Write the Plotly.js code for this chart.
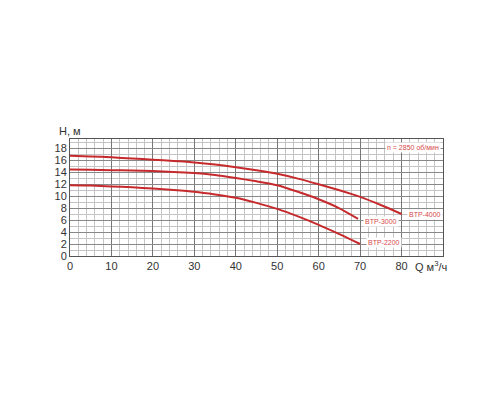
<!DOCTYPE html>
<html>
<head>
<meta charset="utf-8">
<script src="https://cdn.plot.ly/plotly-3.0.1.min.js"></script>
<style>
  html, body { margin: 0; padding: 0; background: #fff; }
  #chart { width: 500px; height: 400px; }
</style>
</head>
<body>
<div id="chart"></div>
<script>
// pump curves
var q4000 = [0, 5, 10, 15, 20, 25, 30, 35, 40, 45, 50, 55, 60, 65, 70, 75, 80];
var h4000 = [16.7, 16.6, 16.45, 16.25, 16.05, 15.85, 15.6, 15.25, 14.8, 14.3, 13.7, 12.9, 11.95, 10.95, 9.85, 8.5, 7.0];

var q3000 = [0, 5, 10, 15, 20, 25, 30, 35, 40, 45, 50, 55, 60, 65, 69.5];
var h3000 = [14.4, 14.38, 14.3, 14.25, 14.15, 14.0, 13.85, 13.5, 13.0, 12.45, 11.8, 10.7, 9.45, 7.95, 6.2];

var q2200 = [0, 5, 10, 15, 20, 25, 30, 35, 40, 45, 50, 55, 60, 65, 70];
var h2200 = [11.8, 11.75, 11.6, 11.45, 11.25, 11.0, 10.7, 10.25, 9.7, 8.85, 7.85, 6.6, 5.2, 3.65, 2.0];

var xTicks = [0, 10, 20, 30, 40, 50, 60, 70, 80];
var yTicks = [0, 2, 4, 6, 8, 10, 12, 14, 16, 18];

var curveColor = '#c62a2c';
var labelColor = '#d5474a';

function curve(q, h) {
  return {
    type: 'scatter',
    mode: 'lines',
    x: q,
    y: h,
    line: { color: curveColor, width: 2, shape: 'spline', smoothing: 0.6 },
    hoverinfo: 'skip'
  };
}

var data = [curve(q4000, h4000), curve(q3000, h3000), curve(q2200, h2200)];

function label(text, x, y) {
  return {
    text: text,
    x: x, y: y,
    xref: 'x', yref: 'y',
    xanchor: 'left',
    showarrow: false,
    bgcolor: '#ffffff',
    borderpad: 1,
    font: { family: 'Liberation Sans, Arial, sans-serif', size: 7, color: labelColor }
  };
}

var layout = {
  width: 500,
  height: 400,
  margin: { l: 69.5, r: 57, t: 139, b: 144 },
  paper_bgcolor: '#ffffff',
  plot_bgcolor: '#ffffff',
  showlegend: false,
  font: { family: 'Liberation Sans, Arial, sans-serif', size: 11, color: '#333333' },
  xaxis: {
    range: [0, 90],
    tickvals: xTicks,
    ticks: '',
    showgrid: true,
    gridcolor: '#777777',
    gridwidth: 1,
    minor: { dtick: 2, showgrid: true, gridcolor: '#c4c4c4', gridwidth: 1 },
    showline: true,
    linecolor: '#555555',
    linewidth: 1,
    mirror: true,
    zeroline: false,
    fixedrange: true,
    tickfont: { size: 11, color: '#333333' }
  },
  yaxis: {
    range: [0, 19.5],
    tickvals: yTicks,
    ticks: '',
    showgrid: true,
    gridcolor: '#888888',
    gridwidth: 1,
    minor: { dtick: 1, showgrid: true, gridcolor: '#c4c4c4', gridwidth: 1 },
    showline: true,
    linecolor: '#555555',
    linewidth: 1,
    mirror: true,
    zeroline: false,
    fixedrange: true,
    tickfont: { size: 11, color: '#333333' }
  },
  annotations: [
    label('BTP-4000', 81.2, 7.0),
    label('BTP-3000', 70.6, 5.8),
    label('BTP-2200', 71.4, 2.3),
    label('n = 2850 об/мин', 76.0, 18.1),
    {
      text: 'H, м',
      xref: 'paper', yref: 'paper',
      x: -0.035, y: 1.0,
      xanchor: 'left', yanchor: 'bottom',
      showarrow: false,
      font: { size: 11, color: '#333333' }
    },
    {
      text: 'Q м<sup>3</sup>/ч',
      xref: 'paper', yref: 'paper',
      x: 0.92, y: 0,
      xanchor: 'left', yanchor: 'top',
      yshift: -1,
      showarrow: false,
      font: { size: 11, color: '#333333' }
    }
  ]
};

Plotly.newPlot('chart', data, layout, { displayModeBar: false, staticPlot: true });
</script>
</body>
</html>
